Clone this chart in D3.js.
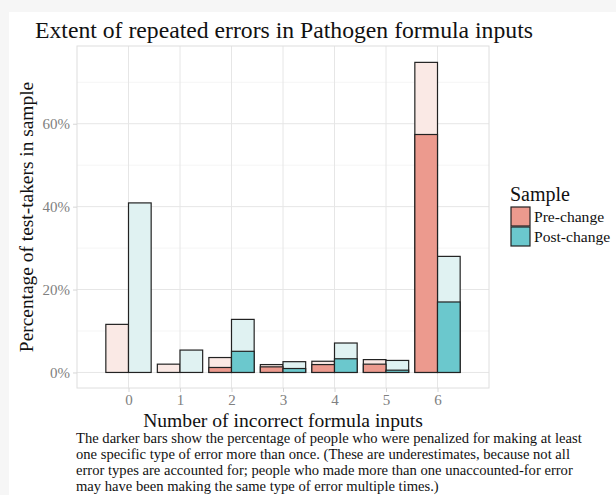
<!DOCTYPE html>
<html>
<head>
<meta charset="utf-8">
<script src="https://cdn.jsdelivr.net/npm/d3@7"></script>
<style>
  body { margin: 0; background: #fff; }
  text { font-family: "Liberation Serif", "DejaVu Serif", serif; }
</style>
</head>
<body>
<svg id="chart" width="616" height="495"></svg>
<script>
// values (percent of test-takers)
let counts = [0, 1, 2, 3, 4, 5, 6];
let preTotal = [11.6, 2.0, 3.6, 1.9, 2.7, 3.1, 74.8];
let preRepeated = [0, 0, 1.2, 1.35, 1.9, 2.0, 57.4];
let postTotal = [40.9, 5.4, 12.8, 2.6, 7.1, 2.9, 28.0];
let postRepeated = [0, 0, 5.1, 0.95, 3.3, 0.55, 17.0];
let yTicks = [0, 20, 40, 60];
let yMinor = [10, 30, 50, 70];
let samples = ['Pre-change', 'Post-change'];

let darkColor = {'Pre-change': '#ec9a8e', 'Post-change': '#6bc8cd'};
let lightColor = {'Pre-change': '#fae9e5', 'Post-change': '#e0f2f2'};

let svg = d3.select('#chart');

// faint outer frame like the screenshot
svg.append('rect').attr('width', 616).attr('height', 495).attr('fill', '#f6f6f6');
svg.append('rect').attr('x', 9).attr('y', 12).attr('width', 607).attr('height', 483).attr('fill', '#fff');

let x = d3.scaleLinear().domain([-1, 7]).range([77, 489]);
let y = d3.scaleLinear().domain([-3.75, 78.75]).range([388, 46]);
let barW = 0.44;

// grid
let grid = svg.append('g');
grid.selectAll('.minor').data(yMinor).enter().append('line')
  .attr('x1', x(-1)).attr('x2', x(7))
  .attr('y1', d => y(d)).attr('y2', d => y(d))
  .attr('stroke', '#f2f2f2').attr('stroke-width', 0.8);
grid.selectAll('.major').data(yTicks).enter().append('line')
  .attr('x1', x(-1)).attr('x2', x(7))
  .attr('y1', d => y(d)).attr('y2', d => y(d))
  .attr('stroke', '#e6e6e6').attr('stroke-width', 1);
grid.selectAll('.vmajor').data(counts).enter().append('line')
  .attr('x1', d => x(d)).attr('x2', d => x(d))
  .attr('y1', y(-3.75)).attr('y2', y(78.75))
  .attr('stroke', '#e6e6e6').attr('stroke-width', 1);

// bars
let rows = [];
counts.forEach((c, i) => {
  rows.push({c: c, s: 'Pre-change', off: -barW, total: preTotal[i], rep: preRepeated[i]});
  rows.push({c: c, s: 'Post-change', off: 0, total: postTotal[i], rep: postRepeated[i]});
});

let bars = svg.append('g');
bars.selectAll('.total').data(rows).enter().append('rect')
  .attr('x', d => x(d.c + d.off))
  .attr('width', d => x(d.c + d.off + barW) - x(d.c + d.off))
  .attr('y', d => y(d.total))
  .attr('height', d => y(0) - y(d.total))
  .attr('fill', d => lightColor[d.s])
  .attr('stroke', '#222').attr('stroke-width', 1.2);
bars.selectAll('.rep').data(rows.filter(d => d.rep > 0)).enter().append('rect')
  .attr('x', d => x(d.c + d.off))
  .attr('width', d => x(d.c + d.off + barW) - x(d.c + d.off))
  .attr('y', d => y(d.rep))
  .attr('height', d => y(0) - y(d.rep))
  .attr('fill', d => darkColor[d.s])
  .attr('stroke', '#222').attr('stroke-width', 1.2);

// panel border
svg.append('rect')
  .attr('x', x(-1)).attr('y', y(78.75))
  .attr('width', x(7) - x(-1)).attr('height', y(-3.75) - y(78.75))
  .attr('fill', 'none').attr('stroke', '#dedede').attr('stroke-width', 1);

// axes
let yAxis = svg.append('g').attr('transform', `translate(${x(-1)},0)`)
  .call(d3.axisLeft(y).tickValues(yTicks).tickFormat(d => d + '%').tickSize(4).tickPadding(3));
let xAxis = svg.append('g').attr('transform', `translate(0,${y(-3.75)})`)
  .call(d3.axisBottom(x).tickValues(counts).tickFormat(d3.format('d')).tickSize(4).tickPadding(2));
[yAxis, xAxis].forEach(a => {
  a.select('.domain').remove();
  a.selectAll('line').attr('stroke', '#d6d6d6');
  a.selectAll('text').attr('fill', '#808080')
    .style('font-family', '"Liberation Serif", serif').style('font-size', '15px');
});

// titles
svg.append('text').attr('x', 35).attr('y', 38)
  .style('font-size', '23.7px').attr('fill', '#111')
  .text('Extent of repeated errors in Pathogen formula inputs');

svg.append('text')
  .attr('transform', `translate(33,${(y(-3.75) + y(78.75)) / 2}) rotate(-90)`)
  .attr('text-anchor', 'middle')
  .style('font-size', '19.4px').attr('fill', '#111')
  .text('Percentage of test-takers in sample');

svg.append('text').attr('x', (x(-1) + x(7)) / 2).attr('y', 427)
  .attr('text-anchor', 'middle')
  .style('font-size', '19.6px').attr('fill', '#111')
  .text('Number of incorrect formula inputs');

// legend
let legend = svg.append('g').attr('transform', 'translate(510,0)');
legend.append('text').attr('x', 0).attr('y', 201)
  .style('font-size', '20px').attr('fill', '#111').text('Sample');
legend.selectAll('.key').data(samples).enter().append('rect')
  .attr('x', 1).attr('y', (d, i) => 207 + i * 20)
  .attr('width', 19).attr('height', 19)
  .attr('fill', d => darkColor[d])
  .attr('stroke', '#222').attr('stroke-width', 1.2);
legend.selectAll('.lab').data(samples).enter().append('text')
  .attr('x', 24).attr('y', (d, i) => 222 + i * 20)
  .style('font-size', '15.6px').attr('fill', '#111')
  .text(d => d);

// caption
let caption = [
  'The darker bars show the percentage of people who were penalized for making at least',
  'one specific type of error more than once. (These are underestimates, because not all',
  'error types are accounted for; people who made more than one unaccounted-for error',
  'may have been making the same type of error multiple times.)'
];
svg.selectAll('.cap').data(caption).enter().append('text')
  .attr('x', 76).attr('y', (d, i) => 443 + i * 16)
  .style('font-size', '14.6px').attr('fill', '#111')
  .text(d => d);
</script>
</body>
</html>
